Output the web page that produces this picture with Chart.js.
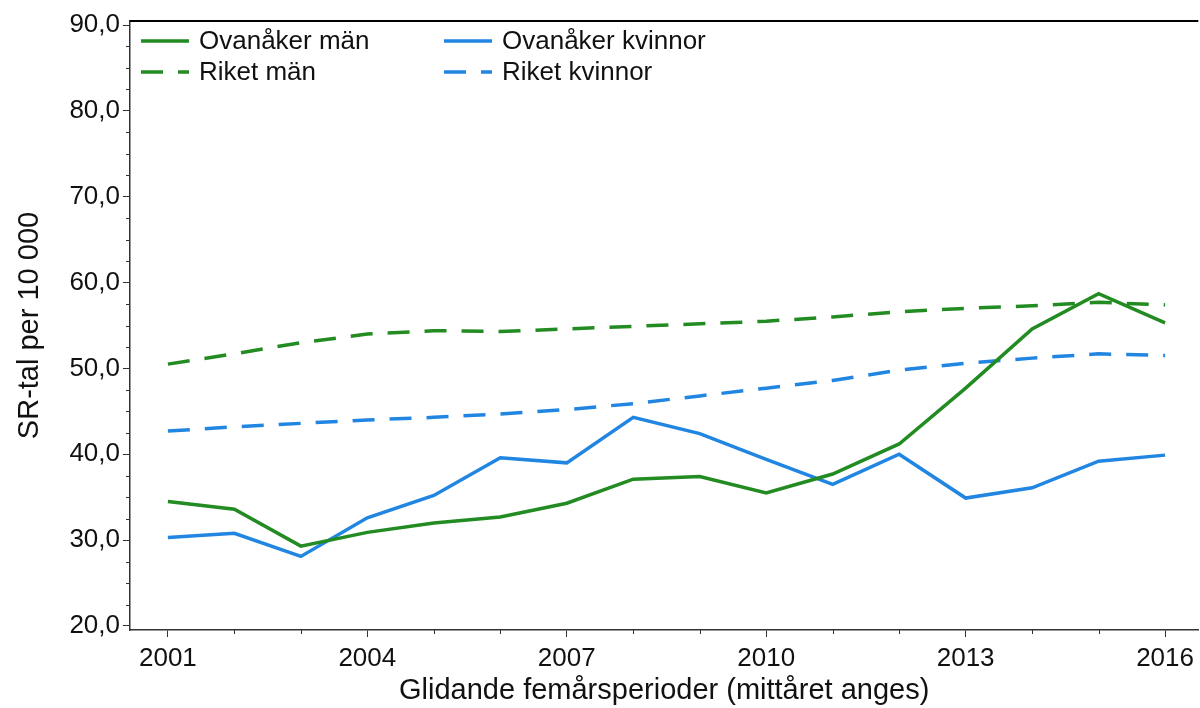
<!DOCTYPE html>
<html>
<head>
<meta charset="utf-8">
<script src="https://cdn.jsdelivr.net/npm/chart.js@4.4.1/dist/chart.umd.min.js"></script>
<style>
  html, body { margin: 0; padding: 0; background: #fff; }
  #wrap { width: 1200px; height: 708px; }
</style>
</head>
<body>
<div id="wrap"><canvas id="linjer"></canvas></div>
<script>
const years = [2001, 2002, 2003, 2004, 2005, 2006, 2007, 2008, 2009, 2010, 2011, 2012, 2013, 2014, 2015, 2016];
const labelYears = [2001, 2004, 2007, 2010, 2013, 2016];
const yTicks = [20, 30, 40, 50, 60, 70, 80, 90];

const ovanakerMan = [34.5, 33.6, 29.3, 30.9, 32.0, 32.7, 34.3, 37.1, 37.4, 35.5, 37.7, 41.2, 47.7, 54.6, 58.7, 55.3];
const ovanakerKvinnor = [30.3, 30.8, 28.1, 32.6, 35.2, 39.6, 39.0, 44.3, 42.4, 39.4, 36.5, 40.0, 34.9, 36.1, 39.2, 39.9];
const riketMan = [50.5, 51.7, 53.0, 54.0, 54.4, 54.3, 54.6, 54.9, 55.2, 55.5, 56.0, 56.6, 57.0, 57.3, 57.7, 57.4];
const riketKvinnor = [42.7, 43.2, 43.6, 44.0, 44.3, 44.7, 45.2, 45.9, 46.8, 47.7, 48.6, 49.8, 50.6, 51.2, 51.7, 51.5];

const gron = "#228B22";
const bla = "#2185E2";
const font = "'Liberation Sans', Arial, sans-serif";

function punkter(values) {
  return years.map((y, i) => ({ x: y, y: values[i] }));
}

const serier = [
  { label: "Ovanåker män", data: ovanakerMan, color: gron, dash: [] },
  { label: "Riket män", data: riketMan, color: gron, dash: [22, 15] },
  { label: "Ovanåker kvinnor", data: ovanakerKvinnor, color: bla, dash: [] },
  { label: "Riket kvinnor", data: riketKvinnor, color: bla, dash: [22, 15] },
];

// small ticks, frame on top, and the legend inside the plot
const extra = {
  id: "extra",
  afterDraw(chart) {
    const ctx = chart.ctx;
    const xs = chart.scales.x, ys = chart.scales.y;
    const area = chart.chartArea;
    ctx.save();
    ctx.strokeStyle = "#333";
    ctx.lineWidth = 1;
    ctx.beginPath();
    for (let v = 20; v <= 90; v += 2.5) {
      if (v % 10 === 0) continue;
      const py = Math.round(ys.getPixelForValue(v)) + 0.5;
      ctx.moveTo(area.left - 4, py);
      ctx.lineTo(area.left, py);
    }
    years.forEach(y => {
      if (labelYears.includes(y)) return;
      const px = Math.round(xs.getPixelForValue(y)) + 0.5;
      ctx.moveTo(px, area.bottom);
      ctx.lineTo(px, area.bottom + 4);
    });
    ctx.stroke();

    ctx.strokeStyle = "#000";
    ctx.lineWidth = 2;
    ctx.beginPath();
    ctx.moveTo(area.left, area.top);
    ctx.lineTo(area.right, area.top);
    ctx.stroke();

    // legend
    ctx.font = "26px " + font;
    ctx.textBaseline = "middle";
    ctx.fillStyle = "#111";
    const pos = [[141, 41], [141, 72], [444, 41], [444, 72]];
    serier.forEach((s, i) => {
      const [lx, ly] = pos[i];
      ctx.strokeStyle = s.color;
      ctx.lineWidth = 3.5;
      ctx.setLineDash(s.dash);
      ctx.beginPath();
      ctx.moveTo(lx, ly);
      ctx.lineTo(lx + 48, ly);
      ctx.stroke();
      ctx.setLineDash([]);
      ctx.fillText(s.label, lx + 58, ly + 1);
    });
    ctx.restore();
  }
};

new Chart(document.getElementById("linjer"), {
  type: "line",
  data: {
    datasets: serier.map(s => ({
      label: s.label,
      data: punkter(s.data),
      borderColor: s.color,
      backgroundColor: s.color,
      borderDash: s.dash,
      borderWidth: 3.5,
      pointRadius: 0,
      tension: 0,
    })),
  },
  options: {
    responsive: true,
    maintainAspectRatio: false,
    animation: false,
    layout: { padding: { top: 21, right: 0, left: 0, bottom: 0 }, autoPadding: false },
    plugins: {
      legend: { display: false },
      tooltip: { enabled: false },
    },
    scales: {
      x: {
        type: "linear",
        min: 2000.43,
        max: 2016.5,
        afterBuildTicks: scale => { scale.ticks = labelYears.map(v => ({ value: v })); },
        afterFit: scale => { scale.height = 78; },
        grid: { drawOnChartArea: false, tickLength: 7, color: "#333" },
        border: { color: "#333", width: 1.5 },
        ticks: {
          color: "#111",
          font: { family: font, size: 26 },
          padding: 6,
          maxRotation: 0,
          callback: v => String(v),
        },
        title: {
          display: true,
          text: "Glidande femårsperioder (mittåret anges)",
          color: "#111",
          font: { family: font, size: 29 },
          padding: { top: 0, bottom: 0 },
        },
      },
      y: {
        min: 19.53,
        max: 90.47,
        afterBuildTicks: scale => { scale.ticks = yTicks.map(v => ({ value: v })); },
        afterFit: scale => { scale.width = 130; },
        grid: { drawOnChartArea: false, tickLength: 7, color: "#333" },
        border: { color: "#333", width: 1.5 },
        ticks: {
          color: "#111",
          font: { family: font, size: 26 },
          padding: 3,
          callback: v => v.toFixed(1).replace(".", ","),
        },
        title: {
          display: true,
          text: "SR-tal per 10 000",
          color: "#111",
          font: { family: font, size: 29 },
          padding: { top: 13, bottom: 0 },
        },
      },
    },
  },
  plugins: [extra],
});
</script>
</body>
</html>
